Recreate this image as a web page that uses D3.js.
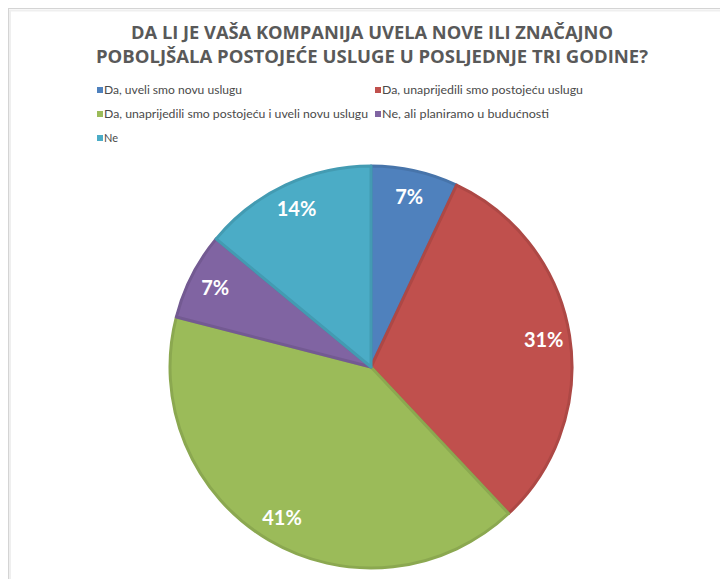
<!DOCTYPE html>
<html>
<head>
<meta charset="utf-8">
<script src="https://cdn.jsdelivr.net/npm/d3@7"></script>
<style>
  body { margin: 0; background: #fff; }
  svg { display: block; }
</style>
</head>
<body>
<svg id="chart" width="720" height="579"></svg>
<script>
// chart data
var titleLines = ['DA LI JE VAŠA KOMPANIJA UVELA NOVE ILI ZNAČAJNO',
                  'POBOLJŠALA POSTOJEĆE USLUGE U POSLJEDNJE TRI GODINE?'];
var categories = ['Da, uveli smo novu uslugu',
                  'Da, unaprijedili smo postojeću uslugu',
                  'Da, unaprijedili smo postojeću i uveli novu uslugu',
                  'Ne, ali planiramo u budućnosti',
                  'Ne'];
var values = [7, 31, 41, 7, 14];
var colors = ['#4f81bd', '#c0504d', '#9bbb59', '#8064a2', '#4bacc6'];

var width = 720, height = 579;
var cx = 371, cy = 367, radius = 201;

var svg = d3.select('#chart');

// frame of the chart area (light border at top and left)
svg.append('rect')
   .attr('x', 8.5).attr('y', 8.5)
   .attr('width', width + 20).attr('height', height + 20)
   .attr('fill', '#fff')
   .attr('stroke', '#d4d4d4')
   .attr('stroke-width', 1);
svg.append('path')
   .attr('d', 'M10,' + (height + 5) + 'V10.5H' + (width + 5))
   .attr('fill', 'none')
   .attr('stroke', '#efefef')
   .attr('stroke-width', 2);

// title
var titleWidths = [482, 552];
svg.append('g').selectAll('text')
   .data(titleLines)
   .join('text')
   .attr('x', 372)
   .attr('y', function(d, i) { return 38.5 + i * 24.5; })
   .attr('text-anchor', 'middle')
   .attr('textLength', function(d, i) { return titleWidths[i]; })
   .attr('lengthAdjust', 'spacingAndGlyphs')
   .style('font-family', '"Open Sans", Lato, sans-serif')
   .style('font-weight', 'bold')
   .style('font-size', '18px')
   .attr('fill', '#595959')
   .text(function(d) { return d; });

// legend
var legendX = [97, 375, 97, 375, 97];
var legendY = [90, 90, 114, 114, 138];
var legendW = [138, 201, 264, 167, 14];
var legend = svg.append('g').selectAll('g')
   .data(categories)
   .join('g')
   .attr('transform', function(d, i) {
     return 'translate(' + legendX[i] + ',' + legendY[i] + ')';
   });
legend.append('rect')
   .attr('x', 0).attr('y', -3)
   .attr('width', 6).attr('height', 6)
   .attr('fill', function(d, i) { return colors[i]; });
legend.append('text')
   .attr('x', 7)
   .attr('y', 4)
   .attr('textLength', function(d, i) { return legendW[i]; })
   .attr('lengthAdjust', 'spacingAndGlyphs')
   .style('font-family', 'Lato, "Open Sans", sans-serif')
   .style('font-size', '12px')
   .attr('fill', '#4a4a4a')
   .text(function(d) { return d; });

// pie
var pie = d3.pie().sort(null).value(function(d) { return d; });
var arc = d3.arc().innerRadius(0).outerRadius(radius);
var labelArc = d3.arc().innerRadius(radius * 0.87).outerRadius(radius * 0.87);
var arcs = pie(values);

var g = svg.append('g').attr('transform', 'translate(' + cx + ',' + cy + ')');
g.selectAll('path')
   .data(arcs)
   .join('path')
   .attr('d', arc)
   .attr('fill', function(d, i) { return colors[i]; })
   .attr('stroke', function(d, i) { return d3.color(colors[i]).darker(0.3); })
   .attr('stroke-width', 3)
   .attr('stroke-linejoin', 'round');

g.selectAll('text')
   .data(arcs)
   .join('text')
   .attr('transform', function(d) { return 'translate(' + labelArc.centroid(d) + ')'; })
   .attr('dy', '0.36em')
   .attr('text-anchor', 'middle')
   .style('font-family', 'Lato, "Open Sans", sans-serif')
   .style('font-weight', 'bold')
   .style('font-size', '20px')
   .attr('fill', '#fff')
   .text(function(d) { return d.data + '%'; });
</script>
</body>
</html>
